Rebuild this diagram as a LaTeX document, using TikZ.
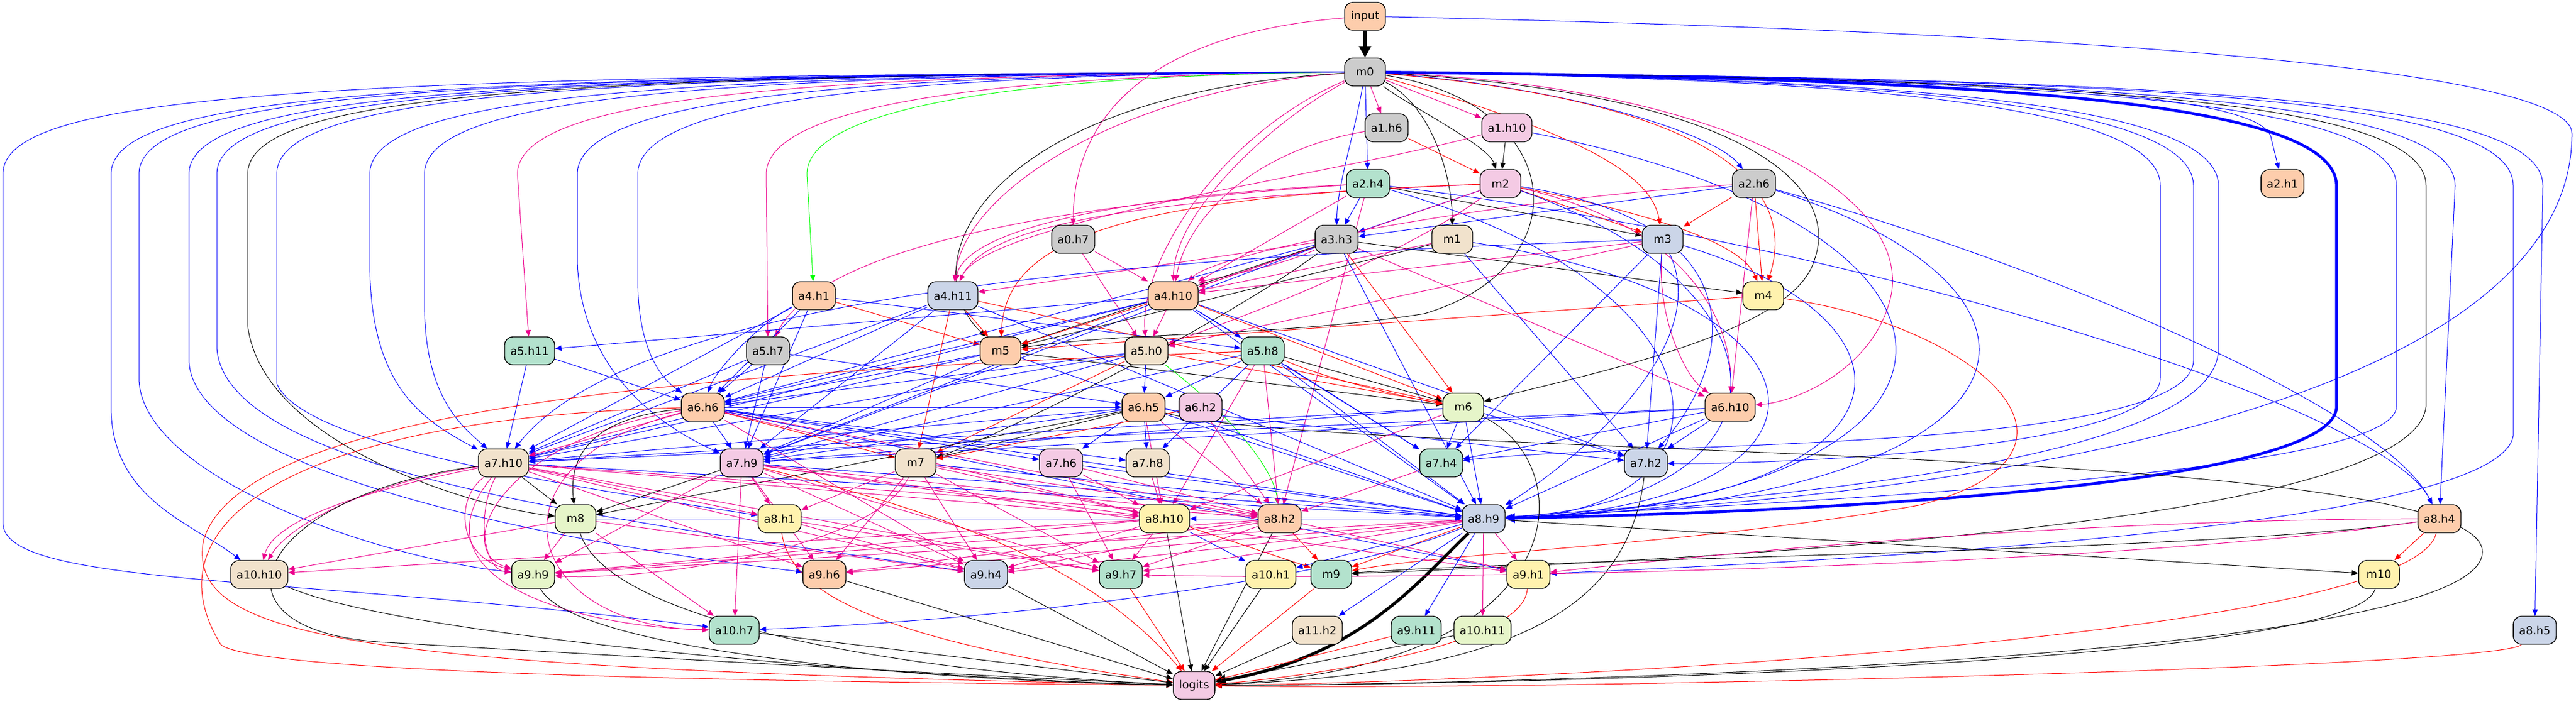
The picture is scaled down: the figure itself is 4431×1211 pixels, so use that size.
\documentclass[tikz,border=0pt]{standalone}
\usepackage{fontspec}
\setmainfont{DejaVu Sans}
\usetikzlibrary{arrows.meta}
\definecolor{cG}{HTML}{CCCCCC}
\definecolor{cP}{HTML}{FDCDAC}
\definecolor{cB}{HTML}{CBD5E8}
\definecolor{cK}{HTML}{F4CAE4}
\definecolor{cL}{HTML}{E6F5C9}
\definecolor{cY}{HTML}{FFF2AE}
\definecolor{cE}{HTML}{F1E2CC}
\definecolor{cM}{HTML}{B3E2CD}
\pgfdeclarelayer{bg}
\pgfsetlayers{bg,main}
\tikzset{
 nd/.style={draw=black,line width=0.7pt,rounded corners=7pt,minimum width=35pt,minimum height=24pt,inner xsep=5pt,inner ysep=2pt,font=\fontsize{9.5pt}{11pt}\selectfont},
 fG/.style={nd,fill=cG}, fP/.style={nd,fill=cP}, fB/.style={nd,fill=cB}, fK/.style={nd,fill=cK},
 fL/.style={nd,fill=cL}, fY/.style={nd,fill=cY}, fE/.style={nd,fill=cE}, fM/.style={nd,fill=cM},
 e/.style={line width=0.5pt,-{Triangle[length=5.5pt,width=4.5pt]}},
 eb/.style={e,draw=blue}, er/.style={e,draw=red}, em/.style={e,draw=magenta},
 ek/.style={e,draw=black}, eg/.style={e,draw=green}
}
\newcommand\edS[3]{\draw[#1] (#2) -- (#3);}
\newcommand\edC[5]{\draw[#1] (#2) .. controls (#3) and (#4) .. (#5);}
\newcommand\laneL[6]{\draw[#1] (m0) .. controls (#2+500,128) and (#2,165) .. (#2,300) -- (#2,#3) .. controls (#4) and (#5) .. (#6);}
\newcommand\laneLs[3]{\draw[#1] (m0) .. controls (#2+500,128) and (#2,165) .. (#2,300) -- (#3);}
\newcommand\laneR[6]{\draw[#1] (m0) .. controls (#2-600,135) and (#2,170) .. (#2,320) -- (#2,#3) .. controls (#4) and (#5) .. (#6);}
\newcommand\laneRs[3]{\draw[#1] (m0) .. controls (#2-600,135) and (#2,170) .. (#2,320) -- (#3);}
\begin{document}
\begin{tikzpicture}[x=0.5pt,y=-0.5pt]
\useasboundingbox (0,0) rectangle (4431,1211);
% nodes
\node[fP] (input) at (2348,28) {input};
\node[fG] (m0) at (2348,124) {m0};
\node[fG] (a1h6) at (2385,220) {a1.h6};
\node[fK] (a1h10) at (2592,220) {a1.h10};
\node[fM] (a2h4) at (2353,316) {a2.h4};
\node[fK] (m2) at (2581,316) {m2};
\node[fG] (a2h6) at (3017,316) {a2.h6};
\node[fP] (a2h1) at (3926,316) {a2.h1};
\node[fG] (a0h7) at (1846,412) {a0.h7};
\node[fG] (a3h3) at (2299,412) {a3.h3};
\node[fE] (m1) at (2498,412) {m1};
\node[fB] (m3) at (2860,412) {m3};
\node[fP] (a4h1) at (1400,509) {a4.h1};
\node[fB] (a4h11) at (1639,509) {a4.h11};
\node[fP] (a4h10) at (2018,509) {a4.h10};
\node[fY] (m4) at (3033,509) {m4};
\node[fM] (a5h11) at (911,604) {a5.h11};
\node[fG] (a5h7) at (1321,604) {a5.h7};
\node[fP] (m5) at (1721,604) {m5};
\node[fE] (a5h0) at (1972,604) {a5.h0};
\node[fM] (a5h8) at (2172,604) {a5.h8};
\node[fP] (a6h6) at (1209,701) {a6.h6};
\node[fP] (a6h5) at (1967,701) {a6.h5};
\node[fK] (a6h2) at (2065,701) {a6.h2};
\node[fL] (m6) at (2517,701) {m6};
\node[fP] (a6h10) at (2976,701) {a6.h10};
\node[fE] (a7h10) at (866,797) {a7.h10};
\node[fK] (a7h9) at (1276,797) {a7.h9};
\node[fE] (m7) at (1575,797) {m7};
\node[fK] (a7h6) at (1825,797) {a7.h6};
\node[fE] (a7h8) at (1974,797) {a7.h8};
\node[fM] (a7h4) at (2479,797) {a7.h4};
\node[fB] (a7h2) at (2831,797) {a7.h2};
\node[fL] (m8) at (990,893) {m8};
\node[fY] (a8h1) at (1341,893) {a8.h1};
\node[fY] (a8h10) at (2003,893) {a8.h10};
\node[fP] (a8h2) at (2201,893) {a8.h2};
\node[fB] (a8h9) at (2552,893) {a8.h9};
\node[fP] (a8h4) at (4196,893) {a8.h4};
\node[fE] (a10h10) at (446,989) {a10.h10};
\node[fL] (a9h9) at (917,989) {a9.h9};
\node[fP] (a9h6) at (1418,989) {a9.h6};
\node[fB] (a9h4) at (1696,989) {a9.h4};
\node[fM] (a9h7) at (1928,989) {a9.h7};
\node[fY] (a10h1) at (2186,989) {a10.h1};
\node[fM] (m9) at (2290,989) {m9};
\node[fY] (a9h1) at (2629,989) {a9.h1};
\node[fY] (m10) at (4092,989) {m10};
\node[fM] (a10h7) at (1263,1085) {a10.h7};
\node[fE] (a11h2) at (2266,1085) {a11.h2};
\node[fM] (a9h11) at (2436,1085) {a9.h11};
\node[fL] (a10h11) at (2550,1085) {a10.h11};
\node[fB] (a8h5) at (4360,1085) {a8.h5};
\node[fK] (logits) at (2054,1180) {logits};
\begin{pgfonlayer}{bg}
% top
\draw[ek,line width=3pt,-{Triangle[length=10pt,width=10pt]}] (input) -- (m0);
\edC{em}{input}{1950,60}{1846,220}{a0h7}
\draw[eb] (input) .. controls (3600,55) and (4424,120) .. (4424,230) .. controls (4424,620) and (3700,840) .. (a8h9);
% m0 near
\edS{em}{m0}{a1h6}
\edS{em}{m0}{a1h10}
\edS{eb}{m0}{a2h4}
\edC{eb}{m0}{2330,230}{2300,320}{a3h3}
\edC{ek}{m0}{2420,180}{2560,250}{m2}
\edC{ek}{m0}{2460,180}{2498,300}{m1}
\edC{er}{m0}{2720,230}{2840,300}{m3}
\edC{eb}{m0}{2700,150}{2950,230}{a2h6}
\edC{er}{m0}{2900,170}{3100,300}{m4}
\edC{em}{m0}{1950,150}{1660,320}{a4h11}
\edC{em}{m0}{2200,200}{2020,360}{a4h10}
\edC{em}{m0}{2100,230}{1960,450}{a5h0}
\edC{ek}{m0}{1700,160}{1560,450}{m5}
\draw[ek] (m0) .. controls (2700,180) and (2720,460) .. (2450,540) .. controls (2200,580) and (1950,570) .. (m5);
\draw[ek] (m0) .. controls (3000,160) and (3170,320) .. (3120,450) .. controls (3080,580) and (2700,650) .. (m6);
\draw[em] (m0) .. controls (3000,150) and (3300,350) .. (3250,520) .. controls (3220,630) and (3100,690) .. (a6h10);
% left lanes
\laneLs{em}{1318}{a5h7}
\laneLs{em}{890}{a5h11}
\laneLs{eg}{1388}{a4h1}
\laneL{eb}{5}{900}{5,1010}{500,990}{a10h7}
\laneL{eb}{191}{700}{191,860}{330,900}{a10h10}
\laneL{eb}{239}{650}{239,820}{650,960}{a9h9}
\laneL{eb}{325}{620}{330,820}{1000,940}{a9h6}
\laneL{eb}{373}{600}{390,820}{1100,900}{a9h4}
\laneL{ek}{426}{560}{450,760}{800,870}{m8}
\laneL{eb}{476}{660}{520,770}{1000,840}{a8h1}
\laneL{eb}{636}{450}{636,660}{720,720}{a7h10}
\laneL{eb}{730}{520}{730,680}{790,730}{a7h10}
\laneL{eb}{993}{450}{1000,650}{1150,740}{a7h9}
\laneL{eb}{1097}{480}{1097,620}{1150,660}{a6h6}
% right lanes
\laneR{eb}{3716}{650}{3716,780}{3000,800}{a7h2}
\laneR{eb}{3773}{620}{3773,780}{2800,760}{a7h4}
\laneR{eb}{3816}{600}{3816,800}{3000,860}{a8h9}
\draw[eb] (m0) .. controls (3300,132) and (3900,150) .. (3907,240) -- (a2h1);
\draw[eb,line width=2.4pt,-{Triangle[length=8pt,width=8pt]}] (m0) .. controls (3400,135) and (4019,170) .. (4019,320) -- (4019,700) .. controls (4019,830) and (3200,880) .. (a8h9);
\laneR{eb}{4122}{700}{4122,800}{3400,850}{a8h9}
\laneR{ek}{4173}{700}{4150,900}{3000,960}{m9}
\laneRs{eb}{4223}{a8h4}
\laneR{eb}{4323}{750}{4300,900}{3300,960}{a9h1}
\laneRs{eb}{4374}{a8h5}
% rows 2-3
\edS{ek}{a1h10}{m2}
\edS{er}{a1h6}{m2}
\edC{em}{a1h6}{2150,260}{2040,380}{a4h10}
\edC{em}{a1h10}{2300,300}{1700,380}{a4h11}
\edC{eb}{a1h10}{3500,400}{3450,860}{a8h9}
\edS{eb}{a2h4}{a3h3}
\edS{ek}{a2h4}{m3}
\edC{em}{a2h4}{1900,340}{1660,400}{a4h11}
\edS{em}{a2h4}{a4h10}
\edC{em}{a2h4}{1700,360}{1400,450}{a5h7}
\edC{eb}{a2h4}{3200,420}{4100,700}{a8h4}
\edC{eb}{a2h4}{3000,500}{3000,880}{a8h9}
\edS{em}{a2h4}{a8h2}
\edS{er}{m2}{m3}
\edC{er}{m2}{2900,380}{3000,430}{m4}
\edS{eb}{m2}{a3h3}
\edC{em}{m2}{2000,340}{1700,380}{a4h11}
\edS{em}{m2}{a4h10}
\edC{er}{m2}{1900,340}{1730,420}{m5}
\edC{em}{m2}{2400,450}{2100,560}{a5h0}
\edC{em}{m2}{2950,400}{2980,600}{a6h10}
\edC{eb}{m2}{3100,500}{3100,860}{a8h9}
\edC{eb}{m2}{3000,380}{3000,600}{a7h2}
\edS{er}{a2h6}{m3}
\edS{er}{a2h6}{m4}
\edS{eb}{a2h6}{a3h3}
\edC{em}{a2h6}{2600,340}{2100,430}{a4h10}
\edS{em}{a2h6}{a6h10}
\edC{eb}{a2h6}{3500,450}{4100,700}{a8h4}
\edC{eb}{a2h6}{3600,500}{3550,860}{a8h9}
\edS{em}{a0h7}{a4h10}
\edS{em}{a0h7}{a5h0}
% row 4
\edS{em}{a3h3}{a4h11}
\edS{em}{a3h3}{a4h10}
\edC{em}{a3h3}{2200,460}{2080,480}{a4h10}
\edS{ek}{a3h3}{m4}
\edS{er}{a3h3}{m6}
\edS{ek}{a3h3}{m5}
\edC{ek}{a3h3}{2100,560}{1700,760}{m7}
\edS{eb}{a3h3}{a8h9}
\edS{eb}{a3h3}{a6h6}
\edS{eb}{a3h3}{a7h9}
\edS{em}{a3h3}{a6h10}
\edS{ek}{m1}{m5}
\edC{eb}{m1}{3200,520}{3200,870}{a8h9}
\edS{em}{m1}{a4h10}
\edS{eb}{m1}{a7h2}
\edC{em}{m3}{2850,550}{2900,650}{a6h10}
\edC{eb}{m3}{3350,560}{3300,870}{a8h9}
\edC{eb}{m3}{2950,600}{2700,800}{a8h9}
\edS{em}{m3}{a4h10}
\edS{em}{m3}{a5h0}
\edS{eb}{m3}{a7h4}
\edS{eb}{m3}{a7h2}
\edC{eb}{m3}{2000,440}{1100,500}{a7h10}
% row 5
\edS{er}{a4h1}{m5}
\edS{eb}{a4h1}{a6h6}
\edC{eb}{a4h1}{1300,560}{1230,640}{a6h6}
\edS{eb}{a4h1}{a7h10}
\edS{eb}{a4h1}{a5h8}
\edS{eb}{a4h1}{a7h9}
\edS{er}{a4h11}{m5}
\edS{er}{a4h11}{m7}
\edS{eb}{a4h11}{a6h6}
\edS{eb}{a4h11}{a7h10}
\edS{eb}{a4h11}{a7h9}
\edS{er}{a4h11}{m6}
\edS{eb}{a4h11}{a8h9}
\edS{er}{a4h10}{m5}
\edS{em}{a4h10}{a5h0}
\edS{eb}{a4h10}{a5h8}
\edS{eb}{a4h10}{a6h6}
\edS{eb}{a4h10}{a7h10}
\edS{eb}{a4h10}{a7h9}
\edS{eb}{a4h10}{a8h9}
\edS{er}{a4h10}{m6}
\edS{eb}{a4h10}{a5h11}
\edS{eb}{a4h10}{a7h4}
\edS{eb}{a4h10}{a7h2}
\edS{er}{m4}{m5}
\draw[er] (m4) .. controls (3400,560) and (3650,780) .. (3300,870) .. controls (2900,940) and (2500,950) .. (m9);
% row 6
\edS{eb}{a5h11}{a6h6}
\edS{eb}{a5h11}{a7h10}
\edS{eb}{a5h7}{a6h6}
\edS{eb}{a5h7}{a7h9}
\edS{eb}{a5h7}{a6h5}
\edS{eb}{a5h7}{a7h10}
\edS{ek}{m5}{m6}
\edS{eb}{m5}{a6h6}
\edS{eb}{m5}{a7h9}
\edS{eb}{m5}{a7h10}
\edS{eb}{m5}{a8h9}
\edS{eb}{a5h0}{a6h6}
\edS{eb}{a5h0}{a7h9}
\edS{eb}{a5h0}{a7h10}
\edC{eg}{a5h0}{2100,700}{2190,800}{a8h2}
\edS{er}{a5h0}{m7}
\edS{er}{a5h0}{m6}
\edS{eb}{a5h0}{a6h5}
\edS{ek}{a5h8}{m6}
\edC{er}{a5h8}{2300,660}{2450,690}{m6}
\edS{eb}{a5h8}{a6h5}
\edS{eb}{a5h8}{a7h8}
\edS{eb}{a5h8}{a7h4}
\edS{eb}{a5h8}{a8h9}
\edS{em}{a5h8}{a8h10}
\edS{em}{a5h8}{a8h2}
\edS{eb}{a5h8}{a7h9}
\draw[er] (a5h8) .. controls (1200,640) and (420,700) .. (350,930) .. controls (320,1100) and (600,1150) .. (logits);
% row 7
\edS{eb}{a6h6}{a7h9}
\edS{er}{a6h6}{m7}
\edS{eb}{a6h6}{a6h5}
\edS{eb}{a6h6}{a7h6}
\edS{eb}{a6h6}{a7h8}
\edS{eb}{a6h6}{a8h9}
\edS{em}{a6h6}{a8h10}
\edS{em}{a6h6}{a8h2}
\edC{em}{a6h6}{850,760}{780,950}{a9h9}
\edC{em}{a6h6}{820,800}{900,1080}{a10h7}
\edC{ek}{a6h6}{1000,720}{980,800}{m8}
\draw[er] (a6h6) .. controls (500,720) and (250,900) .. (380,1110) .. controls (450,1165) and (1500,1175) .. (logits);
\edS{em}{a6h6}{a7h10}
\edS{eb}{a6h6}{a9h1}
\edS{em}{a6h6}{a9h4}
\edS{eb}{a6h5}{a7h8}
\edS{eb}{a6h5}{a7h6}
\edS{ek}{a6h5}{m7}
\edS{eb}{a6h5}{a7h10}
\edS{eb}{a6h5}{a7h9}
\edS{em}{a6h5}{a8h2}
\edS{eb}{a6h5}{a8h9}
\edS{eb}{a6h5}{a7h2}
\edS{ek}{a6h5}{m8}
\draw[ek] (a6h5) .. controls (2300,790) and (4270,760) .. (4270,950) .. controls (4270,1150) and (2400,1180) .. (logits);
\edS{em}{a6h5}{a8h10}
\edS{er}{a6h2}{m7}
\edS{em}{a6h2}{a8h2}
\edS{eb}{m6}{a7h4}
\edS{eb}{m6}{a7h2}
\edS{eb}{m6}{a8h9}
\edS{eb}{m6}{a7h10}
\edS{eb}{m6}{a7h9}
\edC{ek}{m6}{2720,800}{2720,1150}{logits}
\edS{em}{m6}{a8h10}
\edS{eb}{a6h10}{a7h2}
\edS{eb}{a6h10}{a7h4}
\edS{eb}{a6h10}{a7h10}
\edS{eb}{a6h10}{a7h9}
\edS{eb}{a6h10}{a8h9}
% row 8
\edS{ek}{a7h10}{m8}
\edS{em}{a7h10}{a8h1}
\edS{em}{a7h10}{a8h10}
\edS{em}{a7h10}{a8h2}
\edC{em}{a7h10}{780,860}{790,960}{a9h9}
\edC{em}{a7h10}{820,880}{830,980}{a9h9}
\edC{em}{a7h10}{600,850}{470,900}{a10h10}
\edC{em}{a7h10}{640,830}{500,900}{a10h10}
\edS{em}{a7h10}{a9h6}
\edS{em}{a7h10}{a9h4}
\edS{em}{a7h10}{a9h7}
\edC{em}{a7h10}{700,1000}{1000,1080}{a10h7}
\draw[ek] (a7h10) .. controls (450,850) and (330,1080) .. (650,1105) .. controls (900,1120) and (1700,1165) .. (logits);
\edS{eb}{a7h10}{a8h9}
\edS{ek}{a7h9}{m8}
\edS{em}{a7h9}{a8h1}
\edS{em}{a7h9}{a10h7}
\edS{em}{a7h9}{a9h6}
\edS{em}{a7h9}{a8h10}
\edS{em}{a7h9}{a8h2}
\edS{em}{a7h9}{a9h4}
\edS{em}{a7h9}{a9h7}
\edS{em}{a7h9}{a9h1}
\edC{er}{a7h9}{1700,900}{1900,1000}{logits}
\edS{eb}{a7h9}{a8h9}
\edS{em}{a7h9}{a9h9}
\edS{em}{m7}{a8h1}
\edS{em}{m7}{a8h10}
\edS{em}{m7}{a8h2}
\edS{eb}{m7}{a8h9}
\edS{em}{m7}{a9h4}
\edS{em}{m7}{a9h6}
\edC{em}{m7}{1500,950}{1100,1000}{a9h9}
\edS{em}{m7}{a9h7}
\edS{eb}{a7h6}{a8h9}
\edS{em}{a7h6}{a8h10}
\edS{em}{a7h6}{a9h7}
\edS{em}{a7h6}{a8h2}
\edS{em}{a7h8}{a8h10}
\edS{em}{a7h4}{a8h2}
\edC{ek}{a7h2}{2800,1050}{2600,1160}{logits}
% row 9
\edS{em}{m8}{a9h9}
\edS{em}{m8}{a9h4}
\edS{eb}{m8}{a8h9}
\edC{ek}{m8}{1050,1080}{1600,1160}{logits}
\edS{em}{m8}{a10h7}
\edS{em}{m8}{a10h10}
\edC{er}{a8h1}{1360,1020}{1500,1100}{logits}
\edS{em}{a8h1}{a9h4}
\edS{em}{a8h1}{a9h7}
\edS{ek}{a8h10}{logits}
\edS{em}{a8h10}{a9h7}
\edS{eb}{a8h10}{a10h1}
\edS{er}{a8h10}{m9}
\edS{em}{a8h10}{a9h4}
\edS{em}{a8h10}{a10h10}
\edS{em}{a8h10}{a9h9}
\edS{ek}{a8h2}{logits}
\edS{er}{a8h2}{m9}
\edS{em}{a8h2}{a9h7}
\edS{em}{a8h2}{a9h1}
\edS{em}{a8h2}{a9h4}
\edS{em}{a8h2}{a9h9}
\edS{em}{a8h2}{a9h6}
\draw[ek,line width=2.6pt,-{Triangle[length=9pt,width=9pt]}] (a8h9) .. controls (2440,1000) and (2340,1130) .. (logits);
\edS{eb}{a8h9}{a11h2}
\edS{eb}{a8h9}{a9h11}
\edS{em}{a8h9}{a10h11}
\edS{em}{a8h9}{a9h1}
\edS{er}{a8h9}{m9}
\edS{em}{a8h9}{a9h7}
\edS{em}{a8h9}{a9h4}
\edS{em}{a8h9}{a9h6}
\edS{em}{a8h9}{a9h9}
\edS{ek}{a8h9}{m10}
\edS{eb}{a8h9}{a10h1}
\edC{eb}{a8h9}{2300,1000}{1700,1070}{a10h7}
\edS{eb}{a8h9}{a8h10}
\edS{er}{a8h4}{m10}
\edC{er}{a8h4}{4150,1100}{2600,1175}{logits}
\edC{em}{a8h4}{3500,895}{2900,960}{a9h1}
\edC{ek}{a8h4}{3800,950}{2700,960}{m9}
\edC{em}{a8h4}{3600,980}{2400,1000}{a9h7}
% rows 10-11
\edC{ek}{a10h10}{700,1100}{1600,1170}{logits}
\edC{ek}{a9h9}{980,1110}{1500,1170}{logits}
\edS{ek}{a9h6}{logits}
\edS{ek}{a9h4}{logits}
\edS{er}{a9h7}{logits}
\edS{ek}{a10h1}{logits}
\edS{er}{m9}{logits}
\edC{er}{a9h1}{2620,1120}{2200,1170}{logits}
\edC{ek}{m10}{4050,1150}{2500,1180}{logits}
\edS{ek}{a10h7}{logits}
\edS{ek}{a11h2}{logits}
\edS{er}{a9h11}{logits}
\edS{ek}{a10h11}{logits}
\edC{er}{a8h5}{4300,1150}{2600,1190}{logits}
\end{pgfonlayer}
\end{tikzpicture}
\end{document}
